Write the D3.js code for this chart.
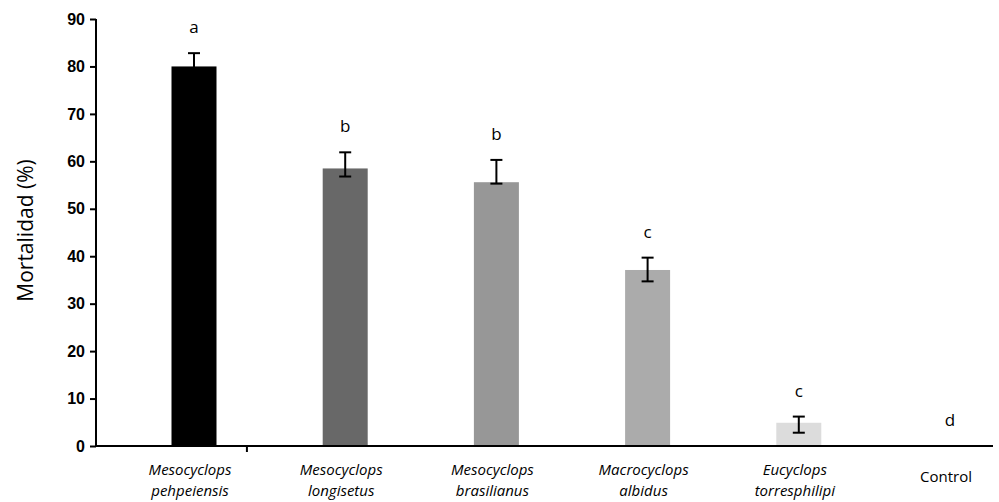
<!DOCTYPE html>
<html>
<head>
<meta charset="utf-8">
<script src="https://cdn.jsdelivr.net/npm/d3@7"></script>
<style>
  body { margin: 0; background: #fff; }
  svg { font-family: "Open Sans", "Noto Sans", sans-serif; }
  .y-axis text { font-size: 16px; font-weight: 600; fill: #000; }
  .cat { font-size: 15px; font-style: italic; font-weight: 500; }
  .cat.plain { font-style: normal; }
  .letter { font-size: 17px; font-weight: 500; }
</style>
</head>
<body>
<svg class="bar-chart" width="999" height="502"></svg>
<script>
// Static data
const categories = [
  ['Mesocyclops', 'pehpeiensis'],
  ['Mesocyclops', 'longisetus'],
  ['Mesocyclops', 'brasilianus'],
  ['Macrocyclops', 'albidus'],
  ['Eucyclops', 'torresphilipi'],
  ['Control']
];
const mortality = [80, 58.5, 55.6, 37.1, 4.9, 0];
const errHigh = [82.8, 61.9, 60.3, 39.7, 6.2, null];
const errLow = [77.2, 56.8, 55.3, 34.7, 2.8, null];
const letters = ['a', 'b', 'b', 'c', 'c', 'd'];
const barColors = ['#000000', '#686868', '#979797', '#ababab', '#dcdcdc', '#ffffff'];
const yTicks = [0, 10, 20, 30, 40, 50, 60, 70, 80, 90];

const chart = d3.select('.bar-chart');

// D3.js setup
const keys = categories.map((c, i) => i);
const x = d3.scalePoint().domain(keys).range([194, 950]);
const y = d3.scaleLinear().domain([0, 90]).range([446, 19]);
const barWidth = 45;
const axisLeft = 96;
const axisRight = 993;

// y axis
const yAxis = d3.axisLeft(y).tickValues(yTicks).tickSize(6).tickPadding(5);
const gy = chart.append('g')
  .attr('class', 'y-axis')
  .attr('transform', `translate(${axisLeft}, 0)`)
  .call(yAxis);
gy.select('.domain').remove();
gy.selectAll('.tick line').attr('stroke', '#000').attr('stroke-width', 2);

chart.append('text')
  .attr('transform', `translate(33, ${y(45) - 2}) rotate(-90)`)
  .attr('text-anchor', 'middle')
  .style('font-size', '21px')
  .text('Mortalidad (%)');

// bars
const bars = chart.selectAll('.bar')
  .data(mortality)
  .enter().append('g')
  .attr('class', 'bar')
  .attr('transform', (d, i) => `translate(${x(i)}, 0)`);

bars.filter(d => d > 0).append('rect')
  .attr('x', -barWidth / 2)
  .attr('y', d => y(d))
  .attr('width', barWidth)
  .attr('height', d => y(0) - y(d))
  .attr('fill', d => barColors[mortality.indexOf(d)]);

// error bars
bars.filter((d, i) => errHigh[i] !== null).each(function (d) {
  const i = mortality.indexOf(d);
  const g = d3.select(this);
  g.append('line')
    .attr('x1', 0).attr('x2', 0)
    .attr('y1', y(errLow[i])).attr('y2', y(errHigh[i]));
  [errLow[i], errHigh[i]].forEach(v => {
    g.append('line')
      .attr('x1', -6).attr('x2', 6)
      .attr('y1', y(v)).attr('y2', y(v));
  });
  g.selectAll('line').attr('stroke', '#000').attr('stroke-width', 2);
});

// significance letters
bars.append('text')
  .attr('class', 'letter')
  .attr('text-anchor', 'middle')
  .attr('y', (d, i) => y(errHigh[i] === null ? d : errHigh[i]) - 20)
  .text((d, i) => letters[i]);

// axes lines
chart.append('line')
  .attr('x1', axisLeft).attr('x2', axisRight)
  .attr('y1', y(0)).attr('y2', y(0))
  .attr('stroke', '#000').attr('stroke-width', 2);
chart.append('line')
  .attr('x1', axisLeft).attr('x2', axisLeft)
  .attr('y1', y(90)).attr('y2', y(0))
  .attr('stroke', '#000').attr('stroke-width', 2);
chart.append('line')
  .attr('x1', x(0) + x.step() * 0.35).attr('x2', x(0) + x.step() * 0.35)
  .attr('y1', y(0)).attr('y2', y(0) + 6)
  .attr('stroke', '#000').attr('stroke-width', 2);

// category labels
const cats = chart.selectAll('.cat')
  .data(categories)
  .enter().append('text')
  .attr('class', d => d.length > 1 ? 'cat' : 'cat plain')
  .attr('text-anchor', 'middle')
  .attr('transform', (d, i) => `translate(${x(i) - 4}, ${d.length > 1 ? 475 : 482})`);

cats.selectAll('tspan')
  .data(d => d)
  .enter().append('tspan')
  .attr('x', 0)
  .attr('dy', (d, j) => j === 0 ? 0 : 21)
  .text(d => d);
</script>
</body>
</html>
